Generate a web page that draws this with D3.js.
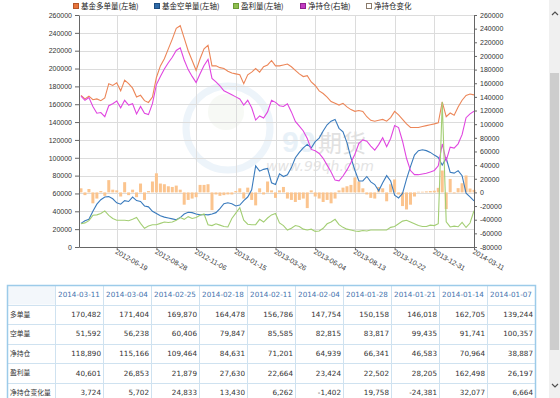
<!DOCTYPE html>
<html>
<head>
<meta charset="utf-8">
<script src="https://cdn.jsdelivr.net/npm/d3@7"></script>
<style>
html, body { margin: 0; padding: 0; background: #fff; overflow: hidden; }
svg { display: block; }
</style>
</head>
<body>
<svg id="chart" width="560" height="398"></svg>
<script>
// weekly data, first week 2012-04-17, last 2014-03-11
var startDate = "2012-04-17"
var xTickLabels = ["2012-06-19", "2012-08-28", "2012-11-06", "2013-01-15", "2013-03-26",
    "2013-06-04", "2013-08-13", "2013-10-22", "2013-12-31", "2014-03-11"]

var seriesNames = ["基金多单量(左轴)", "基金空单量(左轴)", "盈利量(左轴)", "净持仓(右轴)", "净持仓变化"]
var rowLabels = ["多单量", "空单量", "净持仓", "盈利量", "净持仓变化量"]

// 基金多单量
var longVals = [
    170000, 166000, 169000, 165000, 166000, 164000, 167000, 183000, 181000, 184000,
    175000, 187000, 183000, 178000, 168000, 170000, 164000, 162000, 168000, 190000,
    203000, 211000, 222000, 233000, 245000, 248000, 234000, 220000, 209000, 198000,
    211000, 222000, 226000, 203000, 203000, 201000, 200000, 197000, 195000, 194000,
    193000, 183000, 193000, 196000, 200000, 196000, 202000, 204000, 209000, 203000,
    203000, 204000, 205000, 202000, 198000, 194000, 191000, 192000, 185000, 181000,
    175000, 172000, 168000, 163000, 161000, 159000, 161000, 157000, 154000, 152000,
    153000, 152000, 146000, 142000, 141000, 142000, 143000, 141000, 145000, 152000,
    148000, 143000, 138000, 134000, 134000, 134000, 135000, 136000, 137000, 138000,
    139244, 162705, 146018, 150158, 147754, 156786, 164478, 169870, 171404, 170482]

// 基金空单量
var shortVals = [
    26500, 29500, 31000, 40000, 48000, 53000, 56000, 56500, 54000, 49500,
    48000, 52000, 51000, 56000, 52000, 51000, 46000, 45000, 40000, 37500,
    35000, 33500, 32500, 31500, 30500, 33000, 37000, 39000, 38500, 37000,
    36000, 36500, 36000, 37000, 38500, 43000, 48500, 49500, 48500, 46000,
    47000, 52000, 56000, 64000, 91000, 85000, 87000, 88000, 72000, 70000,
    82000, 79000, 81000, 89000, 100000, 106000, 111000, 115000, 111000, 118000,
    122000, 130000, 137000, 141000, 143000, 133000, 129000, 117000, 100000, 86000,
    74000, 74000, 79000, 73000, 70000, 63000, 72000, 80000, 74000, 58000,
    55000, 60000, 76000, 90000, 103000, 108000, 109000, 108000, 106000, 103000,
    100357, 91741, 99435, 83817, 82815, 85585, 79847, 60406, 56238, 51592]

// 盈利量
var profitVals = [
    26000, 27000, 29500, 35500, 36000, 37500, 40500, 35500, 32000, 30000,
    30000, 30000, 29500, 31000, 33000, 26500, 21000, 23500, 25000, 25000,
    26500, 28000, 27500, 28000, 30000, 33000, 31000, 34000, 32000, 33000,
    35500, 37000, 25000, 24000, 26000, 24500, 23000, 22500, 32000, 38000,
    44000, 30000, 25500, 25000, 25000, 31000, 28000, 32500, 36000, 37500,
    27000, 24000, 19000, 21000, 24000, 23000, 20000, 19000, 20000, 17500,
    18000, 21000, 26000, 28000, 31000, 25000, 22000, 20000, 19000, 18000,
    17500, 18500, 18000, 19000, 19000, 19000, 19000, 19000, 22000, 23000,
    26000, 29000, 30000, 28000, 26000, 24000, 23000, 23000, 24500, 24000,
    26197, 162498, 28205, 22502, 23424, 22664, 27630, 21879, 26853, 40601]

// 净持仓
var netVals = [
    141000, 135000, 139000, 126000, 116000, 117000, 111000, 127000, 130000, 134000,
    124000, 135000, 128000, 130000, 115000, 126000, 116000, 114000, 130000, 158000,
    170000, 181000, 190000, 198000, 208000, 212000, 194000, 180000, 170000, 161000,
    174000, 186000, 195000, 167000, 162000, 156000, 149000, 146000, 143000, 140000,
    137000, 128000, 135000, 124000, 106000, 112000, 109000, 118000, 135000, 132000,
    127000, 126000, 130000, 118000, 104000, 97000, 90000, 79000, 63000, 61000,
    57000, 50000, 40000, 30000, 18000, 17000, 24000, 33000, 44000, 56000,
    72000, 77000, 75000, 68000, 62000, 70000, 80000, 67000, 79000, 98000,
    95000, 75000, 50000, 32000, 26000, 26000, 27000, 28000, 30000, 32223,
    38887, 70964, 46583, 66341, 64939, 71201, 84631, 109464, 115166, 118890]

// 净持仓变化
var changeVals = [
    6000, -4000, 5000, -16000, -9000, 2000, -5000, 18000, 4000, 3000,
    -6000, 15000, -4000, 4000, -7000, 13000, -11000, 2000, 16000, 28000,
    13000, 12000, 9000, 8000, 10000, 4000, -18000, -11000, -9000, -7000,
    11000, 11000, 12000, -26000, -3000, -5000, -4000, -3000, -3000, 2000,
    6000, -9000, 7000, -11000, -19000, 6000, -3000, 16000, 3000, -8000,
    3000, 8000, -9000, -11000, -14000, -11000, -9000, -23000, 3000, -6000,
    -9000, -14000, -11000, -16000, -9000, 3000, 7000, 9000, 11000, 22000,
    16000, 6000, -3000, -8000, -9000, 8000, 6000, -13000, 12000, 19000,
    -3000, -20000, -25000, -18000, -6000, 1000, 1000, 1500, 2000, 2500,
    6664, 32077, -24381, 19758, -1402, 6262, 13430, 24833, 5702, 3724]

var colors = {
    long: "#ec8658", short: "#3a7bbd", profit: "#a3ce74", net: "#e046e0", change: "#fbc48e"
}

var loc = d3.formatLocale({decimal: ".", thousands: ",", grouping: [3], currency: ["", ""], minus: "-"})
var fmtInt = loc.format("d")
var fmtComma = loc.format(",d")
var parse = d3.utcParse("%Y-%m-%d")
var fmtDate = d3.utcFormat("%Y-%m-%d")

var dates = longVals.map(function(d, i) {
    return d3.utcDay.offset(parse(startDate), 7 * i)
})

var svg = d3.select("#chart")

var plotL = 79, plotR = 474, plotT = 15, plotB = 247

var x = d3.scaleUtc()
    .domain([d3.utcHour.offset(parse(startDate), -84), parse("2014-03-11")])
    .range([plotL, plotR])
var yL = d3.scaleLinear().domain([0, 260000]).range([plotB, plotT])
var yR = d3.scaleLinear().domain([-80000, 260000]).range([plotB, plotT])

var leftTicks = d3.range(0, 260001, 20000)
var rightTicks = d3.range(-80000, 260001, 20000)
var tickDates = xTickLabels.map(parse)

// watermark
var wm = svg.append("g").attr("opacity", 0.5)
wm.append("circle").attr("cx", 228).attr("cy", 128).attr("r", 42)
    .attr("fill", "none").attr("stroke", "#dceaf6").attr("stroke-width", 7)
wm.append("circle").attr("cx", 226).attr("cy", 112).attr("r", 18)
    .attr("fill", "#f0f5ec")
wm.append("text").attr("x", 282).attr("y", 152)
    .style("font-family", "Liberation Sans, sans-serif").style("font-size", "30px")
    .style("font-weight", "bold").attr("fill", "#d3e5f3").text("99")
wm.append("text").attr("x", 318).attr("y", 152)
    .style("font-family", "Noto Sans CJK SC, sans-serif").style("font-size", "24px")
    .attr("fill", "#c4c4c4").text("期货")
wm.append("text").attr("x", 266).attr("y", 171)
    .style("font-family", "DejaVu Sans, sans-serif").style("font-size", "14px")
    .style("font-style", "italic").attr("fill", "#c8c8c8").text("www.99qh.com")

// grid
var grid = svg.append("g")
grid.selectAll("line.h").data(leftTicks).enter().append("line")
    .attr("x1", plotL).attr("x2", plotR)
    .attr("y1", function(d) { return Math.round(yL(d)) + 0.5 })
    .attr("y2", function(d) { return Math.round(yL(d)) + 0.5 })
    .attr("stroke", "#dcdcdc")
grid.selectAll("line.v").data(tickDates).enter().append("line")
    .attr("x1", function(d) { return Math.round(x(d)) + 0.5 })
    .attr("x2", function(d) { return Math.round(x(d)) + 0.5 })
    .attr("y1", plotT).attr("y2", plotB)
    .attr("stroke", "#dcdcdc")

// bars
svg.append("g").selectAll("rect").data(changeVals).enter().append("rect")
    .attr("x", function(d, i) { return x(dates[i]) - 1.5 })
    .attr("width", 3)
    .attr("y", function(d) { return yR(Math.max(0, d)) })
    .attr("height", function(d) { return Math.abs(yR(d) - yR(0)) })
    .attr("fill", colors.change)

// lines
function drawLine(vals, scale, color) {
    var line = d3.line()
        .x(function(d, i) { return x(dates[i]) })
        .y(function(d) { return scale(d) })
    svg.append("path").datum(vals)
        .attr("d", line)
        .attr("fill", "none")
        .attr("stroke", color)
        .attr("stroke-width", 1.1)
}
drawLine(longVals, yL, colors.long)
drawLine(shortVals, yL, colors.short)
drawLine(netVals, yR, colors.net)
drawLine(profitVals, yL, colors.profit)

// axes
function styleAxis(g) {
    g.select(".domain").attr("stroke", "#666")
    g.selectAll(".tick line").attr("stroke", "#666")
    g.selectAll("text")
        .style("font-family", "Liberation Sans, Arial, sans-serif")
        .style("font-size", "7px")
        .attr("fill", "#333")
}

svg.append("g").attr("transform", "translate(" + plotL + ",0)")
    .call(d3.axisLeft(yL).tickValues(leftTicks).tickSize(4).tickSizeOuter(0).tickFormat(fmtInt))
    .call(styleAxis)

svg.append("g").attr("transform", "translate(" + plotR + ",0)")
    .call(d3.axisRight(yR).tickValues(rightTicks).tickSize(3).tickSizeOuter(0).tickFormat(fmtInt))
    .call(styleAxis)

var xAxis = svg.append("g").attr("transform", "translate(0," + plotB + ")")
    .call(d3.axisBottom(x).tickValues(tickDates).tickSize(3).tickSizeOuter(0).tickFormat(fmtDate))
    .call(styleAxis)
xAxis.selectAll("text")
    .attr("x", 1).attr("y", 4).attr("dy", "0.35em")
    .attr("transform", "rotate(30)")
    .style("text-anchor", "start")

// legend
var legendColors = [
    ["#e8743b", "#b5562a"], ["#2e6aa8", "#1d4d80"], ["#8fbf4f", "#6c9a36"],
    ["#c23bc2", "#8f1f8f"], ["#ffffff", "#8a7a6a"]]
var legendX = [73, 154, 233, 300, 366]
var legend = svg.append("g")
seriesNames.forEach(function(name, i) {
    legend.append("rect")
        .attr("x", legendX[i] + 0.5).attr("y", 3.5).attr("width", 5).attr("height", 5)
        .attr("fill", legendColors[i][0]).attr("stroke", legendColors[i][1])
    legend.append("text")
        .attr("x", legendX[i] + 8).attr("y", 9)
        .style("font-family", "Noto Sans CJK SC, sans-serif")
        .style("font-size", "7.5px")
        .attr("fill", "#222")
        .text(name)
})

// table
var tx = 7, ty = 285, cw = 48, hh = 19.5, rh = 19.6
var tableDates = dates.slice(-10).reverse().map(fmtDate)
var tableRows = [longVals, shortVals, netVals, profitVals, changeVals].map(function(v) {
    return v.slice(-10).reverse()
})
var table = svg.append("g")
var tw = cw * 11
table.append("rect").attr("x", tx).attr("y", ty).attr("width", cw).attr("height", hh)
    .attr("fill", "#f3f7fb")
for (var r = 1; r <= 5; r++) {
    var yy = ty + hh + (r - 1) * rh
    table.append("line").attr("x1", tx).attr("x2", tx + tw)
        .attr("y1", Math.round(yy) + 0.5).attr("y2", Math.round(yy) + 0.5)
        .attr("stroke", "#cfe2f0")
}
for (var c = 1; c <= 10; c++) {
    table.append("line")
        .attr("x1", tx + c * cw + 0.5).attr("x2", tx + c * cw + 0.5)
        .attr("y1", ty).attr("y2", ty + hh + 5 * rh)
        .attr("stroke", "#cfe2f0")
}
table.append("rect").attr("x", tx + 0.5).attr("y", ty + 0.5)
    .attr("width", tw).attr("height", hh + 5 * rh)
    .attr("fill", "none").attr("stroke", "#9ccbe9").attr("stroke-width", 1.5)

table.selectAll("text.hd").data(tableDates).enter().append("text")
    .attr("x", function(d, i) { return tx + (i + 1.5) * cw })
    .attr("y", ty + hh / 2)
    .attr("dy", "0.35em")
    .style("text-anchor", "middle")
    .style("font-family", "DejaVu Sans, Verdana, sans-serif")
    .style("font-size", "7.2px")
    .attr("fill", "#3f73ad")
    .text(function(d) { return d })

rowLabels.forEach(function(label, r) {
    var cy = ty + hh + r * rh + rh / 2
    table.append("text")
        .attr("x", tx + 3).attr("y", cy).attr("dy", "0.35em")
        .style("font-family", "Noto Sans CJK SC, sans-serif")
        .style("font-size", "6.8px")
        .attr("fill", "#333")
        .text(label)
    table.selectAll(null).data(tableRows[r]).enter().append("text")
        .attr("x", function(d, i) { return tx + (i + 2) * cw - 2 })
        .attr("y", cy).attr("dy", "0.35em")
        .style("text-anchor", "end")
        .style("font-family", "DejaVu Sans, Verdana, sans-serif")
        .style("font-size", "7.2px")
        .attr("fill", "#333")
        .text(function(d) { return fmtComma(d) })
})

// scrollbar
var sb = svg.append("g")
sb.append("rect").attr("x", 549).attr("y", 0).attr("width", 11).attr("height", 398).attr("fill", "#f0f0f0")
sb.append("rect").attr("x", 550).attr("y", 73).attr("width", 9).attr("height", 277).attr("fill", "#cdcdcd")
sb.append("path").attr("d", "M552,15 L555,12 L558,15").attr("fill", "none")
    .attr("stroke", "#505050").attr("stroke-width", 1.2)
sb.append("path").attr("d", "M552,384 L555,387 L558,384").attr("fill", "none")
    .attr("stroke", "#505050").attr("stroke-width", 1.2)
</script>
</body>
</html>
